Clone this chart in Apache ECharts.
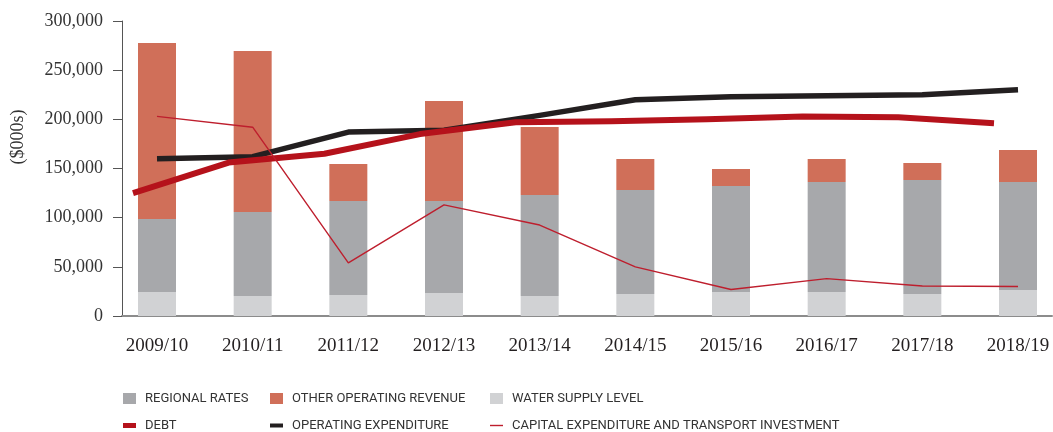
<!DOCTYPE html>
<html>
<head>
<meta charset="utf-8">
<script src="https://cdn.jsdelivr.net/npm/echarts@6/dist/echarts.min.js"></script>
<style>
html,body{margin:0;padding:0;background:#fff;}
#main{width:1053px;height:432px;}
</style>
</head>
<body>
<div id="main"></div>
<script>
// values in $000s
var categories = ['2009/10','2010/11','2011/12','2012/13','2013/14','2014/15','2015/16','2016/17','2017/18','2018/19'];
var waterSupply = [24400, 20300, 21400, 23400, 20300, 22400, 24400, 24400, 22400, 26400];
var regionalRates = [74200, 85500, 95600, 93600, 102700, 105700, 107800, 111900, 115900, 109900];
var otherRevenue = [179000, 163700, 37600, 101600, 69200, 31600, 17300, 23400, 17300, 32500];
var debt = [125000, 156000, 165000, 185000, 197000, 198000, 200000, 203000, 202000, 196000];
var opex = [160000, 162000, 187000, 189000, 204000, 220000, 223000, 224000, 225000, 230000];
var capex = [203000, 192000, 54000, 113000, 92500, 50000, 27000, 38000, 30500, 30000];
var yTicks = [0, 50000, 100000, 150000, 200000, 250000, 300000];

var myChart = echarts.init(document.getElementById('main'));

function legendAt(name, left, top, icon){
	return {
		data: [{name: name, icon: icon}],
		left: left,
		top: top,
		padding: 0,
		itemWidth: 13,
		itemHeight: 11,
		selectedMode: false,
		itemStyle: {borderWidth: 0},
		textStyle: {fontFamily: 'Roboto', fontSize: 13, color: '#333', padding: [0, 0, 0, 4]}
	};
}

var option = {
	animation: false,
	grid: [
		{left: 157, right: 35, top: 21, bottom: 116},
		{left: 122, right: 1, top: 21, bottom: 116},
		// debt is drawn a quarter period early, so it gets its own shifted grid
		{left: 133, right: 59, top: 21, bottom: 116}
	],
	xAxis: [
		{
			type: 'category',
			gridIndex: 0,
			data: categories,
			boundaryGap: false,
			axisLine: {show: false},
			axisTick: {show: false},
			axisLabel: {margin: 21, fontFamily: 'Liberation Serif', fontSize: 19, color: '#231f20'}
		},
		{
			type: 'value',
			gridIndex: 1,
			min: 0, max: 1,
			axisLine: {show: true, lineStyle: {color: '#8c8c8c', width: 2}},
			axisTick: {show: false},
			axisLabel: {show: false},
			splitLine: {show: false}
		},
		{
			type: 'category',
			gridIndex: 2,
			data: categories,
			boundaryGap: false,
			show: false
		}
	],
	yAxis: [
		{
			type: 'value',
			gridIndex: 0,
			min: yTicks[0], max: yTicks[yTicks.length - 1],
			show: false
		},
		{
			type: 'value',
			gridIndex: 1,
			min: yTicks[0], max: yTicks[yTicks.length - 1], interval: 50000,
			axisLine: {show: true, lineStyle: {color: '#555', width: 1}},
			axisTick: {show: true, length: 9, lineStyle: {color: '#555'}},
			splitLine: {show: false},
			axisLabel: {
				margin: 19,
				fontFamily: 'Liberation Serif',
				fontSize: 18,
				color: '#333',
				formatter: function(v){ return String(v).replace(/\B(?=(\d{3})+(?!\d))/g, ','); }
			}
		},
		{
			type: 'value',
			gridIndex: 2,
			min: yTicks[0], max: yTicks[yTicks.length - 1],
			show: false
		}
	],
	legend: [
		legendAt('REGIONAL RATES', 123, 392, 'rect'),
		legendAt('OTHER OPERATING REVENUE', 270, 392, 'rect'),
		legendAt('WATER SUPPLY LEVEL', 490, 392, 'rect'),
		legendAt('DEBT', 123, 419, 'path://M0,0H13V5H0Z'),
		legendAt('OPERATING EXPENDITURE', 270, 419, 'path://M0,0H13V4H0Z'),
		legendAt('CAPITAL EXPENDITURE AND TRANSPORT INVESTMENT', 490, 419, 'path://M0,0H13V1.4H0Z')
	],
	graphic: [{
		type: 'text',
		x: 18, y: 137,
		rotation: Math.PI / 2,
		style: {
			text: '($000s)',
			font: '18px "Liberation Serif"',
			fill: '#333',
			align: 'center',
			verticalAlign: 'middle'
		}
	}],
	series: [
		{
			name: 'WATER SUPPLY LEVEL', type: 'bar', stack: 'rev', barWidth: 38, clip: false,
			xAxisIndex: 0, yAxisIndex: 0,
			itemStyle: {color: '#d1d2d4'},
			data: waterSupply
		},
		{
			name: 'REGIONAL RATES', type: 'bar', stack: 'rev', barWidth: 38, clip: false,
			xAxisIndex: 0, yAxisIndex: 0,
			itemStyle: {color: '#a7a8ab'},
			data: regionalRates
		},
		{
			name: 'OTHER OPERATING REVENUE', type: 'bar', stack: 'rev', barWidth: 38, clip: false,
			xAxisIndex: 0, yAxisIndex: 0,
			itemStyle: {color: '#d06f59'},
			data: otherRevenue
		},
		{
			name: 'OPERATING EXPENDITURE', type: 'line', symbol: 'none', clip: false,
			xAxisIndex: 0, yAxisIndex: 0,
			itemStyle: {color: '#231f20'},
			lineStyle: {color: '#231f20', width: 5.5, cap: 'butt', join: 'round'},
			data: opex
		},
		{
			name: 'DEBT', type: 'line', symbol: 'none', clip: false,
			xAxisIndex: 2, yAxisIndex: 2,
			itemStyle: {color: '#b5121b'},
			lineStyle: {color: '#b5121b', width: 6, cap: 'butt', join: 'round'},
			data: debt
		},
		{
			name: 'CAPITAL EXPENDITURE AND TRANSPORT INVESTMENT', type: 'line', symbol: 'none', clip: false,
			xAxisIndex: 0, yAxisIndex: 0,
			itemStyle: {color: '#be1e2d'},
			lineStyle: {color: '#be1e2d', width: 1.4},
			data: capex
		}
	]
};
myChart.setOption(option);
</script>
</body>
</html>
